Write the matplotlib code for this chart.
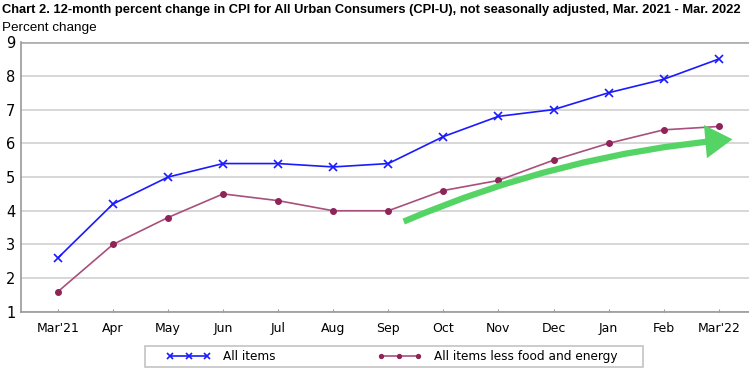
import numpy as np
import matplotlib.pyplot as plt
from matplotlib.patches import FancyArrowPatch, Rectangle

months = ["Mar'21", "Apr", "May", "Jun", "Jul", "Aug", "Sep",
          "Oct", "Nov", "Dec", "Jan", "Feb", "Mar'22"]
all_items = [2.6, 4.2, 5.0, 5.4, 5.4, 5.3, 5.4, 6.2, 6.8, 7.0, 7.5, 7.9, 8.5]
core = [1.6, 3.0, 3.8, 4.5, 4.3, 4.0, 4.0, 4.6, 4.9, 5.5, 6.0, 6.4, 6.5]
yticks = [1, 2, 3, 4, 5, 6, 7, 8, 9]

# trend arrow (data coords)
arrow_start = (6.28, 3.68)
arrow_end = (12.25, 6.12)

plt.rcParams['font.family'] = ['DejaVu Sans']

fig = plt.figure(figsize=(7.49, 3.70), dpi=100)
ax = fig.add_axes([0.028, 0.157, 0.972, 0.729])

x = np.arange(len(months))
ax.plot(x, all_items, color='#1a1aff', lw=1.2, marker='x', ms=6, mew=1.2,
        label='All items', zorder=3)
ax.plot(x, core, color='#a8507c', lw=1.2, marker='o', ms=4,
        mfc='#8e2458', mec='#8e2458', label='All items less food and energy', zorder=3)

arr = FancyArrowPatch(arrow_start, arrow_end, connectionstyle='arc3,rad=-0.08',
                      arrowstyle='-|>,head_length=13,head_width=8',
                      color='#55d466', lw=4.5, mutation_scale=1, shrinkA=0, shrinkB=0,
                      joinstyle='miter', capstyle='butt', zorder=4)
ax.add_patch(arr)

ax.set_xlim(-0.67, 12.55)
ax.set_ylim(1, 9)
ax.set_yticks(yticks)
ax.set_xticks(x)
ax.set_xticklabels(months)
ax.yaxis.grid(True, color='#d4d4d4', lw=1.3)
ax.set_axisbelow(True)
ax.axhline(9, color='#b0b0b0', lw=2, zorder=1)
for s in ['top', 'right']:
    ax.spines[s].set_visible(False)
for s in ['left', 'bottom']:
    ax.spines[s].set_color('#999999')
    ax.spines[s].set_linewidth(1.2)
ax.tick_params(axis='y', length=0, labelsize=10.5, pad=4)
ax.tick_params(axis='x', direction='in', length=2, color='#999999', labelsize=9, pad=7)

fig.text(0.003, 0.972, 'Chart 2. 12-month percent change in CPI for All Urban Consumers (CPI-U), '
         'not seasonally adjusted, Mar. 2021 - Mar. 2022',
         family=['Liberation Sans', 'DejaVu Sans'], weight='bold', fontsize=9.25, va='center')
fig.text(0.003, 0.925, 'Percent change', family=['Liberation Sans', 'DejaVu Sans'],
         fontsize=9.7, va='center')

# legend without its own frame, box drawn separately
leg = fig.legend(loc='center left', bbox_to_anchor=(0.222, 0.037), ncol=2, numpoints=3,
                 frameon=False, fontsize=8.7, handlelength=3.7, handletextpad=1.0,
                 columnspacing=8.4, borderpad=0, borderaxespad=0, markerscale=0.7)
fig.patches.append(Rectangle((0.1936, 0.009), 0.665, 0.0568, transform=fig.transFigure,
                             fill=False, edgecolor='#c4c4c4', lw=1.2))

fig.savefig('out.png', dpi=100)
